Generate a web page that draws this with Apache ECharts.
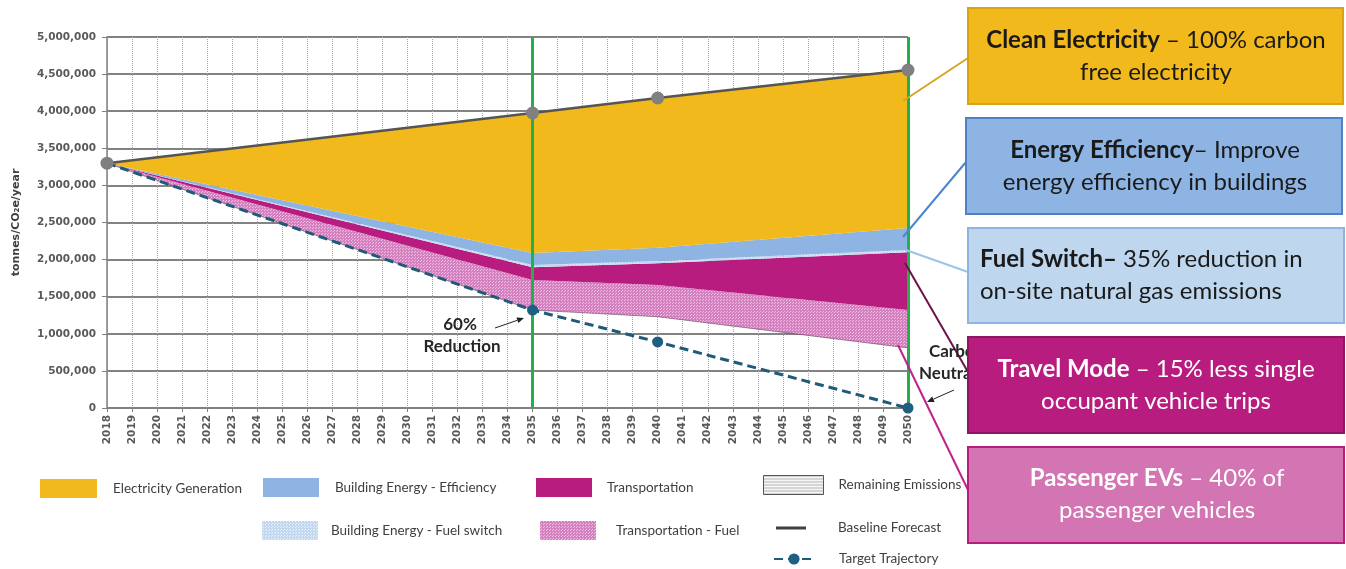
<!DOCTYPE html>
<html>
<head>
<meta charset="utf-8">
<style>
  html, body { margin: 0; padding: 0; background: #ffffff; }
  #chart { width: 1346px; height: 569px; }
</style>
<script src="https://cdn.jsdelivr.net/npm/echarts/dist/echarts.min.js"></script>
</head>
<body>
<div id="chart"></div>
<script>
// ---------------- data (tonnes CO2e / year) ----------------
const years          = [2018, 2035, 2040, 2050];
const baseline       = [3300000, 3976000, 4178000, 4555000];
const target         = [3300000, 1320000, 890000, 0];
const remaining      = [3300000, 1320000, 1230000, 810000];
const transportFuel  = [0, 405000, 428000, 510000];
const transportation = [0, 172000, 293000, 779000];
const fuelSwitch     = [0, 30000, 30000, 30000];
const efficiency     = [0, 162000, 179000, 297000];
const electricity    = [0, 1887000, 2018000, 2129000];
const milestoneYears = [2035, 2050];
const xMin = 2018, xMax = 2050;
const yMax = 5000000, yStep = 500000;

const pairs = arr => years.map((y, i) => [y, arr[i]]);
// value first so that the library stacks the value dimension (encode maps it to y)
const stackPairs = arr => years.map((y, i) => [arr[i], y]);

// ---------------- patterns ----------------
function pattern(bg, fg, kind) {
  const c = document.createElement('canvas');
  const s = 3;
  c.width = s; c.height = s;
  const g = c.getContext('2d');
  g.fillStyle = bg; g.fillRect(0, 0, s, s);
  g.fillStyle = fg;
  if (kind === 'dots') { g.fillRect(0, 0, 1, 1); g.fillRect(1, 2, 1, 1); }
  else { g.fillRect(0, 0, s, 1); }
  return { image: c, repeat: 'repeat' };
}
const cElec = '#f1b91b';
const cEff = '#8db4e2';
const cTrans = '#b81c7f';
const pFuelSwitch = pattern('#c2d8f0', '#e9f1fb', 'dots');
const pTransFuel = pattern('#d580c0', '#efbfe0', 'dots');
const pRemain = pattern('#f6f6f6', '#b5b5b5', 'lines');

function areaSeries(name, arr, color, extra) {
  return Object.assign({
    name, type: 'line', stack: 'emis', data: stackPairs(arr), encode: { x: 1, y: 0 },
    symbol: 'none',
    lineStyle: { width: 0, color: typeof color === 'string' ? color : '#cccccc' },
    itemStyle: { color },
    areaStyle: { color, opacity: 1 },
    z: 2, silent: true, animation: false
  }, extra || {});
}

// ---------------- annotation helpers ----------------
function arrow(x1, y1, x2, y2, color) {
  const dx = x2 - x1, dy = y2 - y1, L = Math.hypot(dx, dy);
  const ux = dx / L, uy = dy / L, hl = 7, hw = 3;
  const bx = x2 - ux * hl, by = y2 - uy * hl;
  return [
    { type: 'line', shape: { x1, y1, x2: bx, y2: by }, style: { stroke: color, lineWidth: 1 }, z: 30 },
    { type: 'polygon', shape: { points: [[x2, y2], [bx - uy * hw, by + ux * hw], [bx + uy * hw, by - ux * hw]] }, style: { fill: color }, z: 30 }
  ];
}
const F = 'Lato, "Open Sans", sans-serif';
const BOX_FS = 24;
function richText(x, y, text, color, align) {
  return {
    type: 'text', x, y, z: 40,
    style: {
      text, fill: color, align: align || 'center', textAlign: align || 'center',
      verticalAlign: 'middle', textVerticalAlign: 'middle',
      fontSize: BOX_FS, fontFamily: F, lineHeight: 32,
      rich: {
        b: { fontSize: BOX_FS, fontFamily: F, fontWeight: 'bold', fill: color, lineHeight: 32 },
        n: { fontSize: BOX_FS, fontFamily: F, fontWeight: 'normal', fill: color, lineHeight: 32 }
      }
    }
  };
}
function box(x, y, w, h, fill, stroke) {
  return { type: 'rect', shape: { x, y, width: w, height: h }, style: { fill, stroke, lineWidth: 2 }, z: 35 };
}
function lead(x1, y1, x2, y2, color) {
  return { type: 'line', shape: { x1, y1, x2, y2 }, style: { stroke: color, lineWidth: 2 }, z: 25 };
}
function label(x, y, text, align) {
  return { type: 'text', x, y, z: 30, style: { text, fill: '#262626', fontSize: 17, fontWeight: 'bold', fontFamily: F, align: align || 'center', textAlign: align || 'center', verticalAlign: 'middle', textVerticalAlign: 'middle' } };
}

const graphics = [].concat(
  [label(460, 325, '60%'), label(462, 347, 'Reduction'),
   label(929, 352, 'Carbon', 'left'), label(919, 374, 'Neutral', 'left')],
  arrow(495, 328, 524, 318, '#222222'),
  arrow(954, 390, 927, 402, '#222222'),
  [
    lead(903, 101, 968, 58, '#d6a527'),
    lead(903, 237, 966, 162, '#4a86d0'),
    lead(906, 250, 968, 272, '#9cc3e8'),
    lead(905, 263, 968, 372, '#6e1248'),
    lead(898, 345, 968, 490, '#c2208a'),
    box(968, 8, 375, 96, '#f1b91b', '#d9a414'),
    richText(1156, 56, '{b|Clean Electricity}{n| – 100% carbon}\n{n|free electricity}', '#1a1a1a'),
    box(966, 118, 376, 96, '#8eb4e3', '#4f81c4'),
    richText(1155, 166, '{b|Energy Efficiency}{n|– Improve}\n{n|energy efficiency in buildings}', '#1a1a1a'),
    box(968, 228, 376, 95, '#bed7ef', '#8eb4e3'),
    richText(980, 275, '{b|Fuel Switch–}{n| 35% reduction in}\n{n|on-site natural gas emissions}', '#1a1a1a', 'left'),
    box(968, 337, 376, 96, '#b81c7f', '#8c165f'),
    richText(1156, 385, '{b|Travel Mode}{n| – 15% less single}\n{n|occupant vehicle trips}', '#ffffff'),
    box(968, 447, 376, 96, '#d275b2', '#b81c7f'),
    richText(1157, 494, '{b|Passenger EVs}{n| – 40% of}\n{n|passenger vehicles}', '#ffffff')
  ]
);

// ---------------- legends ----------------
function leg(name, left, top, w, h, pad, extra) {
  return {
    show: true, left, top, itemWidth: w, itemHeight: h, selectedMode: false, padding: 0,
    data: [Object.assign({ name }, extra || {})],
    textStyle: { fontSize: 13.5, color: '#404040', fontFamily: F, padding: [0, 0, 0, pad] }
  };
}
const legends = [
  leg('Electricity Generation', 40, 479, 57, 19, 11, { icon: 'rect', itemStyle: { color: cElec, borderWidth: 0 } }),
  leg('Building Energy - Efficiency', 263, 478, 56, 19, 11, { icon: 'rect', itemStyle: { color: cEff, borderWidth: 0 } }),
  leg('Transportation', 536, 478, 56, 19, 10, { icon: 'rect', itemStyle: { color: cTrans, borderWidth: 0 } }),
  leg('Remaining Emissions', 763, 475, 60, 19, 10, { icon: 'rect', itemStyle: { color: pRemain, borderColor: '#555555', borderWidth: 1 } }),
  leg('Building Energy - Fuel switch', 262, 521, 56, 19, 8, { icon: 'rect', itemStyle: { color: pFuelSwitch, borderWidth: 0 } }),
  leg('Transportation - Fuel', 540, 521, 56, 19, 15, { icon: 'rect', itemStyle: { color: pTransFuel, borderWidth: 0 } }),
  leg('Baseline Forecast', 776, 521, 30, 3, 27, { icon: 'rect', itemStyle: { color: '#404040', borderWidth: 0 } }),
  leg('Target Trajectory', 773, 552, 40, 14, 20)
];

// ---------------- chart ----------------
const chart = echarts.init(document.getElementById('chart'), null, { renderer: 'canvas' });
chart.setOption({
  animation: false,
  backgroundColor: '#ffffff',
  grid: { left: 107, right: 438, top: 37, bottom: 161, containLabel: false },
  legend: legends,
  xAxis: {
    type: 'value', min: xMin, max: xMax, interval: 1,
    axisLine: { show: true, onZero: false, lineStyle: { color: '#808080', width: 1.5 } },
    axisTick: { show: true, length: 4, lineStyle: { color: '#808080' } },
    axisLabel: { rotate: 90, fontSize: 10.5, fontWeight: 'bold', color: '#595959', fontFamily: '"DejaVu Sans", sans-serif', margin: 7, formatter: v => String(v) },
    splitLine: { show: true, lineStyle: { color: '#a6a6a6', type: 'dotted', width: 1 } }
  },
  yAxis: {
    type: 'value', min: 0, max: yMax, interval: yStep,
    name: 'tonnes/CO₂e/year', nameLocation: 'middle', nameGap: 85,
    nameTextStyle: { fontSize: 11, fontWeight: 'bold', color: '#404040', fontFamily: '"DejaVu Sans", sans-serif' },
    axisLine: { show: true, lineStyle: { color: '#808080', width: 1.5 } },
    axisTick: { show: true, length: 5, lineStyle: { color: '#808080' } },
    axisLabel: { fontSize: 10.5, fontWeight: 'bold', color: '#595959', fontFamily: '"DejaVu Sans", sans-serif', margin: 11, formatter: v => v.toLocaleString('en-US') },
    splitLine: { show: true, lineStyle: { color: '#5a5a5a', width: 1.5 } }
  },
  series: [
    areaSeries('Remaining Emissions', remaining, pRemain, {
      areaStyle: { color: 'rgba(255,255,255,0)', opacity: 0 },
      lineStyle: { width: 1, color: 'rgba(90,60,80,0.55)' }
    }),
    areaSeries('Transportation - Fuel', transportFuel, pTransFuel),
    areaSeries('Transportation', transportation, cTrans),
    areaSeries('Building Energy - Fuel switch', fuelSwitch, pFuelSwitch),
    areaSeries('Building Energy - Efficiency', efficiency, cEff),
    areaSeries('Electricity Generation', electricity, cElec, {
      markLine: {
        silent: true, symbol: 'none', label: { show: false },
        lineStyle: { color: '#22b04b', width: 3, type: 'solid' },
        emphasis: { disabled: true },
        data: milestoneYears.map(y => ({ xAxis: y }))
      }
    }),
    {
      name: 'Target Trajectory', type: 'line', data: pairs(target), z: 5,
      symbol: 'circle', symbolSize: 11, silent: true,
      lineStyle: { color: '#1f5a78', width: 3, type: [9, 5] },
      itemStyle: { color: '#1f5f82' }
    },
    {
      name: 'Baseline Forecast', type: 'line', data: pairs(baseline), z: 6,
      symbol: 'circle', symbolSize: 13, silent: true,
      lineStyle: { color: '#555555', width: 2.5 },
      itemStyle: { color: '#808080' }
    }
  ],
  graphic: { elements: graphics }
});
</script>
</body>
</html>
